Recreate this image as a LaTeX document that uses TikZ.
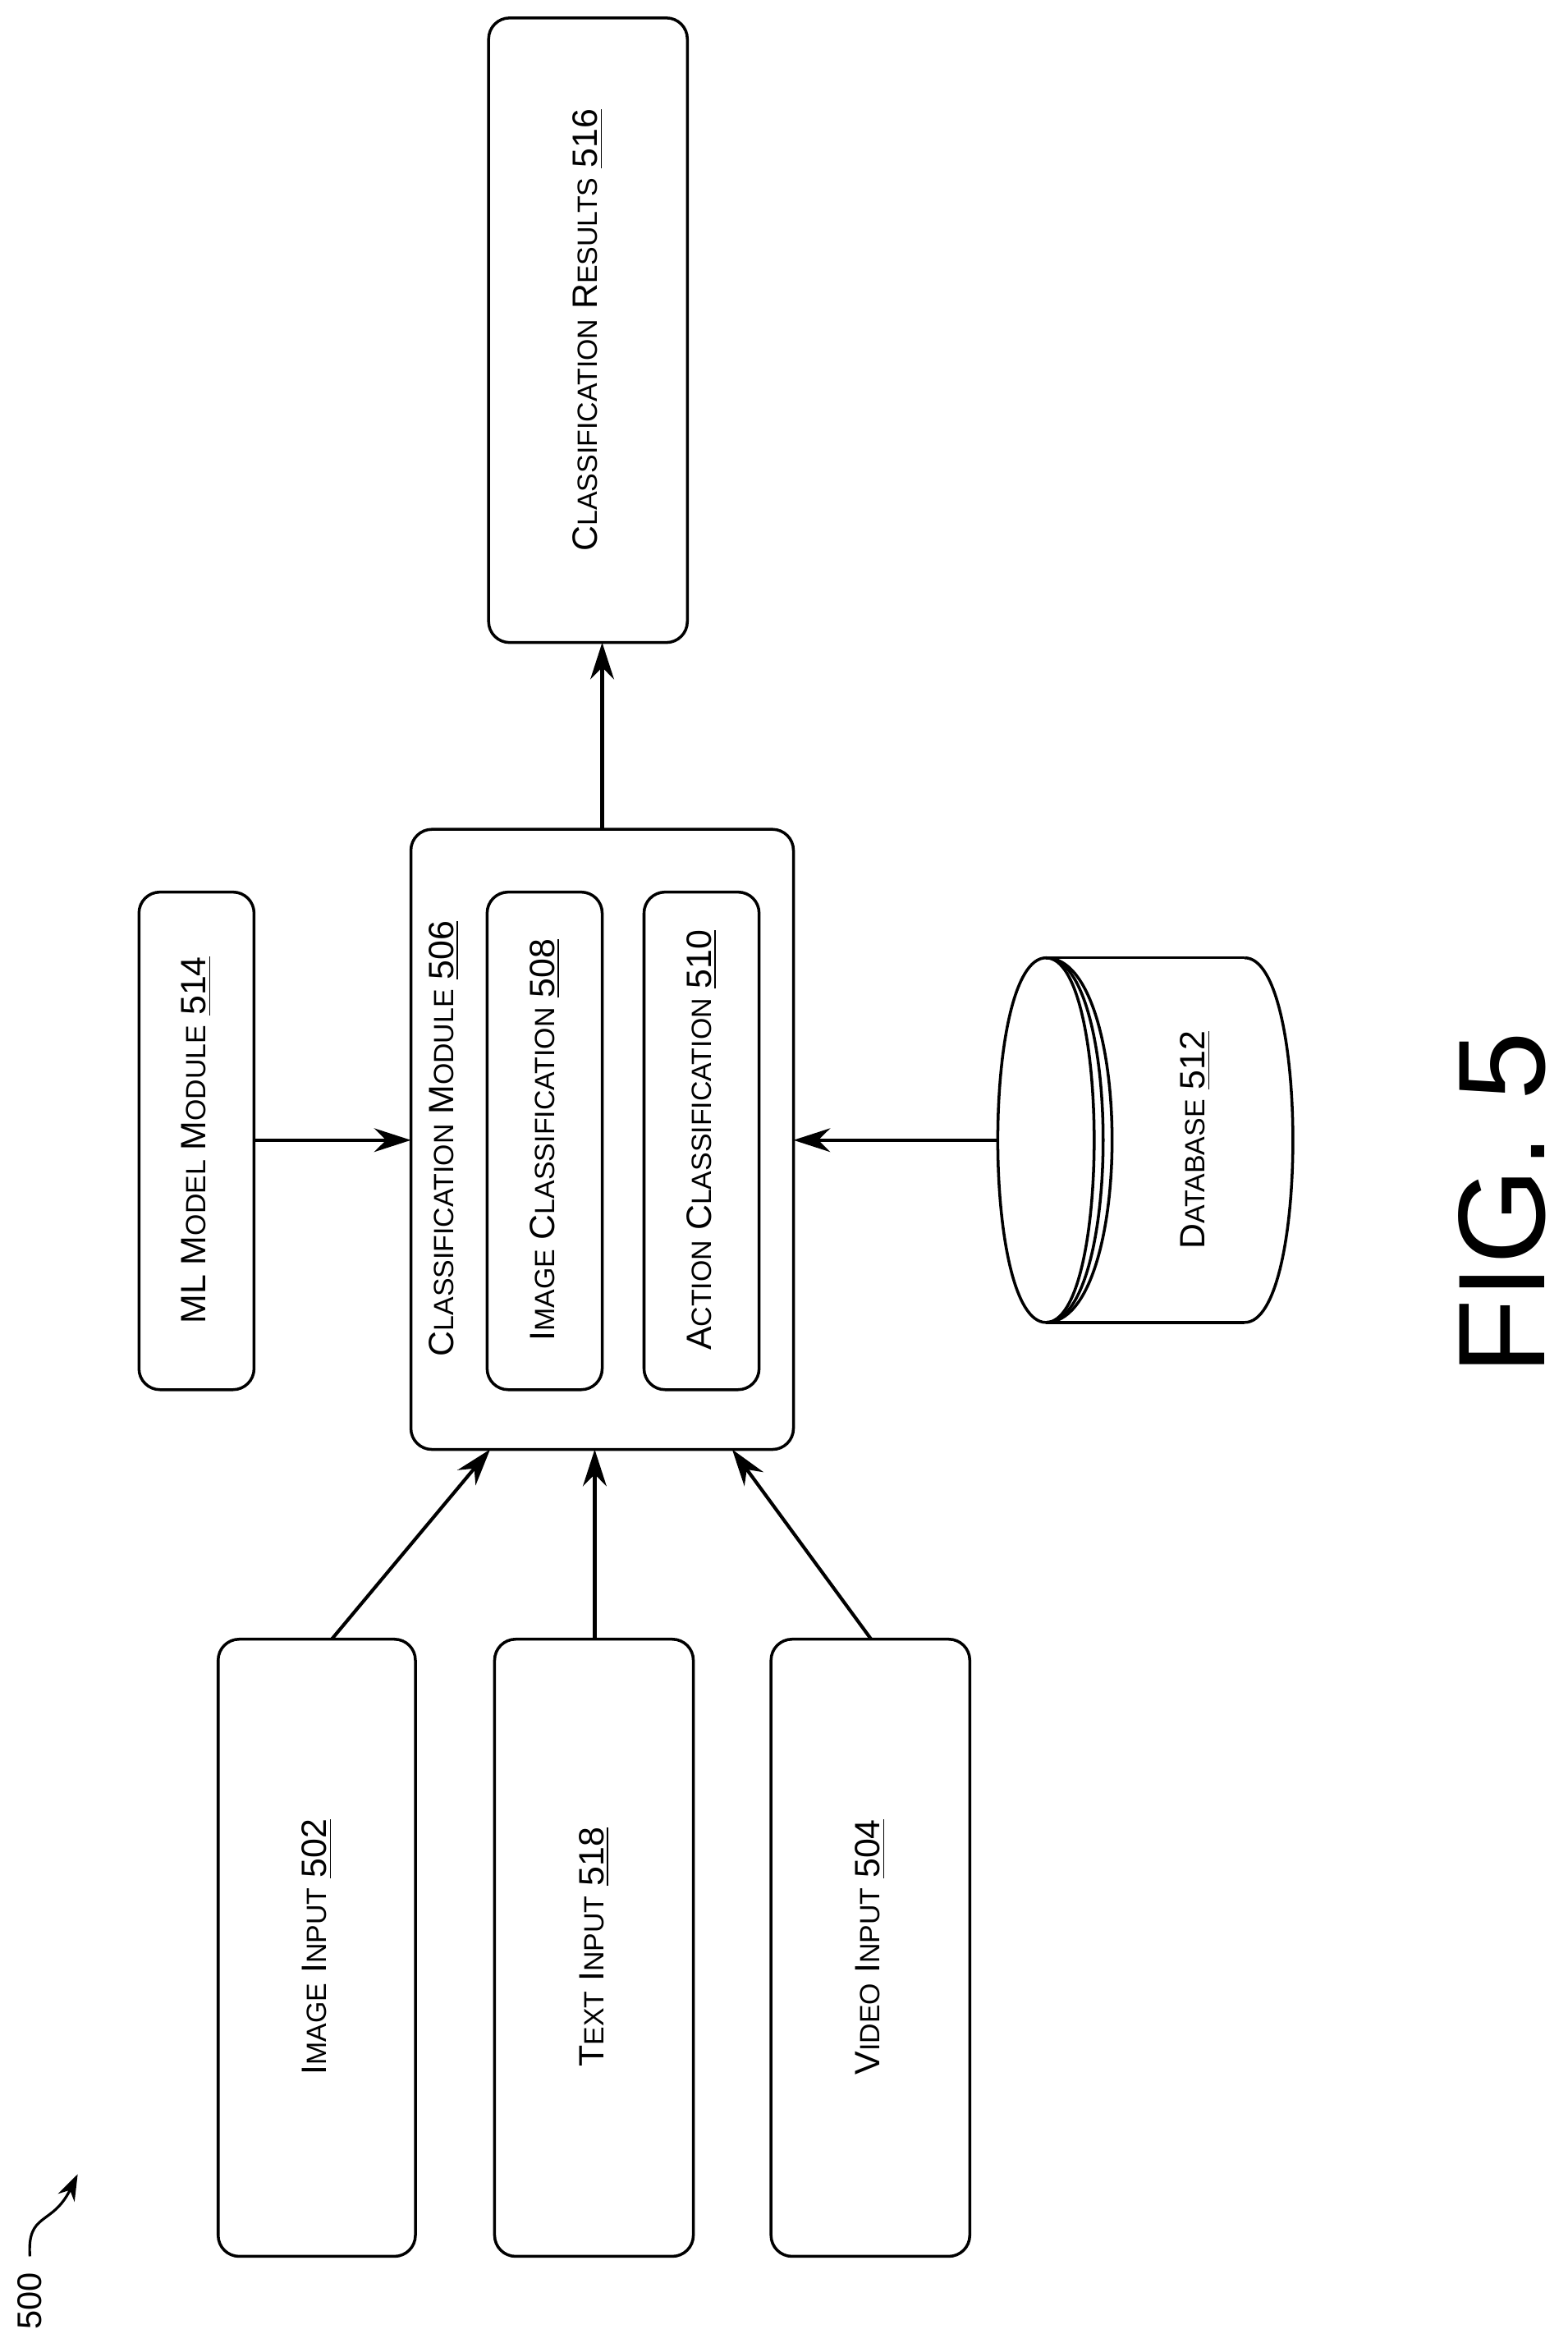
\documentclass[tikz,border=0pt]{standalone}
\usepackage{fontspec}
\setmainfont{Liberation Sans}
\usetikzlibrary{arrows.meta}
\newcommand\sm[1]{{\fontsize{10.6}{11}\selectfont #1}}
\begin{document}
\begin{tikzpicture}[x=0.02cm,y=-0.02cm,
  box/.style={draw,line width=1.1pt,rounded corners=8pt},
  lbl/.style={rotate=90,font=\fontsize{13.4}{15}\selectfont,inner sep=0pt},
  arr/.style={line width=1.3pt,-{Stealth[length=14pt,width=9pt]}}]
\useasboundingbox (0,0) rectangle (1049,1568);
\draw[box] (327,12) rectangle (460,430);
\node[lbl] (r) at (393.5,221) {C\sm{LASSIFICATION} R\sm{ESULTS} \underline{516}};
\coordinate (rb) at (403,430);
\draw[box] (275,555) rectangle (531,970);
\coordinate (cmt) at (403,555);
\node[lbl] (cm) at (297,762) {C\sm{LASSIFICATION} M\sm{ODULE} \underline{506}};
\draw[box] (326,597) rectangle (403,930);
\node[lbl] (ic) at (364.5,763) {I\sm{MAGE} C\sm{LASSIFICATION} \underline{508}};
\draw[box] (431,597) rectangle (508,930);
\node[lbl] (ac) at (469.5,763) {A\sm{CTION} C\sm{LASSIFICATION} \underline{510}};
\draw[box] (93,597) rectangle (170,930);
\node[lbl] (ml) at (131.5,763) {ML M\sm{ODEL} M\sm{ODULE} \underline{514}};
% database
\begin{scope}[line width=1.1pt]
\draw (700,641) -- (833,641) (700,885) -- (833,885);
\draw (833,641) .. controls (876,641) and (876,885) .. (833,885);
\draw (700,641) .. controls (657,641) and (657,885) .. (700,885);
\draw (700,641) .. controls (743,641) and (743,885) .. (700,885);
\draw (700,641) .. controls (751,641) and (751,885) .. (700,885);
\draw (700,641) .. controls (759,641) and (759,885) .. (700,885);
\end{scope}
\node[lbl] (db) at (800,763) {D\sm{ATABASE} \underline{512}};
\draw[box] (146,1097) rectangle (278,1510);
\node[lbl] (ii) at (212,1303) {I\sm{MAGE} I\sm{NPUT} \underline{502}};
\draw[box] (331,1097) rectangle (464,1510);
\node[lbl] (ti) at (397.5,1303) {T\sm{EXT} I\sm{NPUT} \underline{518}};
\draw[box] (516,1097) rectangle (649,1510);
\node[lbl] (vi) at (582.5,1303) {V\sm{IDEO} I\sm{NPUT} \underline{504}};
\coordinate (a1) at (222,1097); \coordinate (a2) at (328,970);
\coordinate (b1) at (398,1097); \coordinate (b2) at (398,970);
\coordinate (c1) at (583,1097); \coordinate (c2) at (490,970);
\coordinate (m1) at (170,763); \coordinate (m2) at (275,763);
\coordinate (d1) at (668,763); \coordinate (d2) at (531,763);
\draw[arr] (cmt) -- (rb);
\draw[arr] (m1) -- (m2);
\draw[arr] (d1) -- (d2);
\draw[arr] (a1) -- (a2);
\draw[arr] (b1) -- (b2);
\draw[arr] (c1) -- (c2);
\node[rotate=90,font=\fontsize{47}{52}\selectfont] (fig) at (1005,805) {FIG. 5};
\node[rotate=90,font=\fontsize{13}{14}\selectfont] (n500) at (20,1540) {500};
\coordinate (t500) at (52,1455);
\draw[line width=1pt,-{Stealth[length=10pt,width=7pt]}] (20,1510) .. controls (18,1480) and (35,1490) .. (t500);
\end{tikzpicture}
\end{document}
